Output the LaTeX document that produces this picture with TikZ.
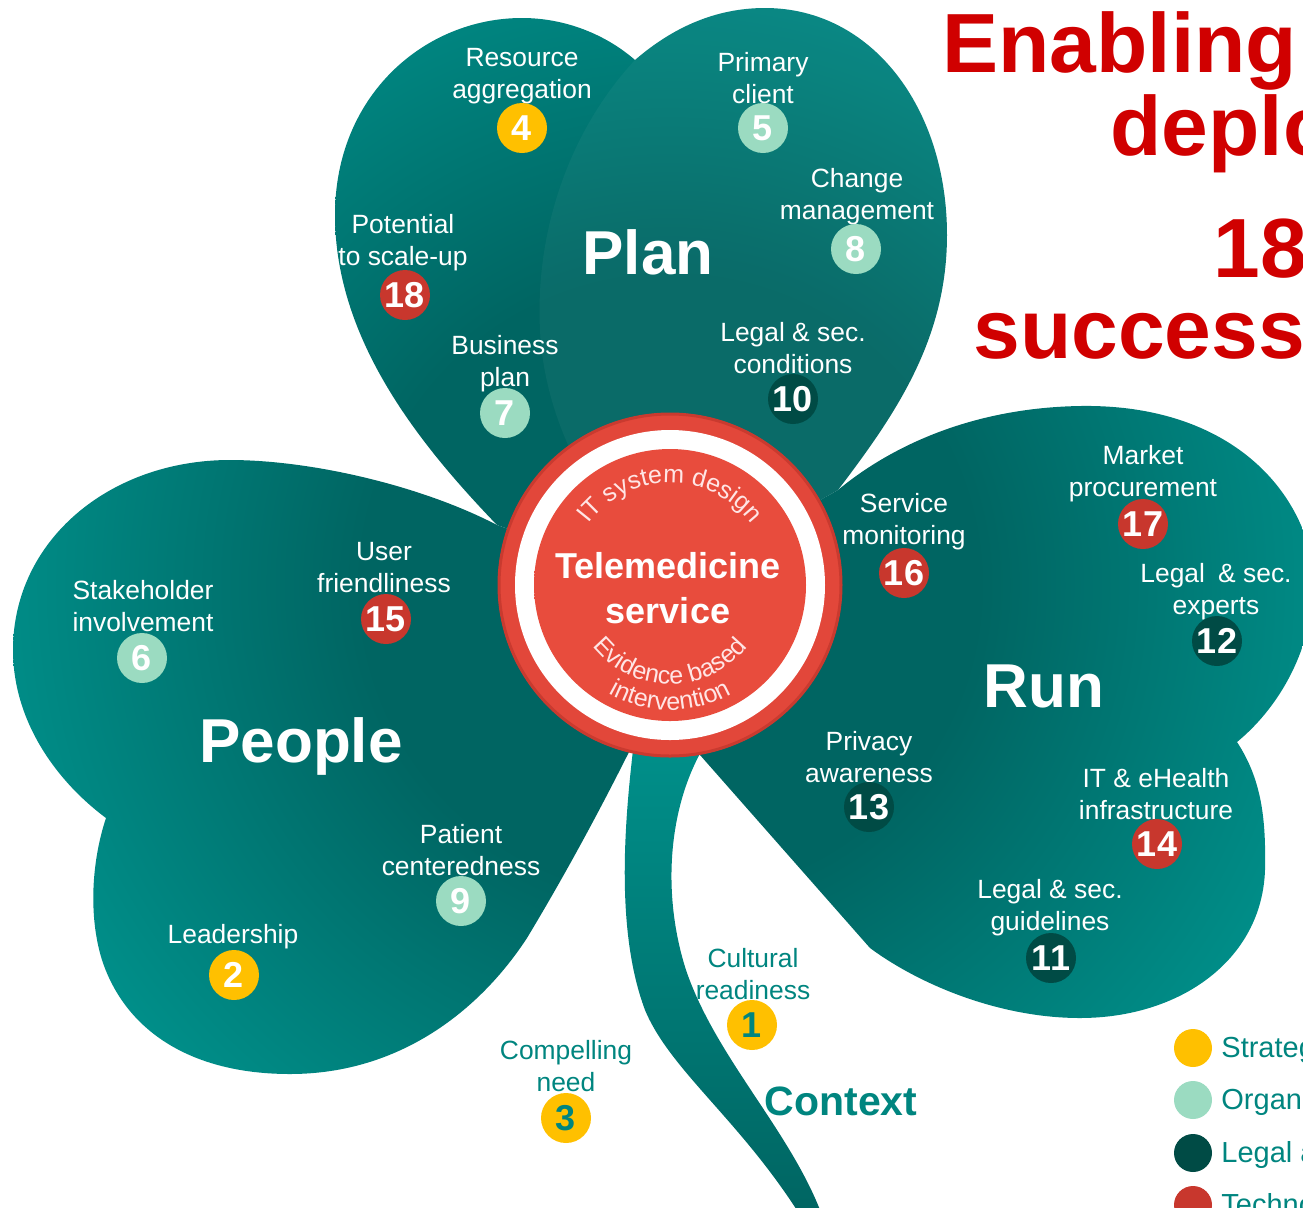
\documentclass[tikz,border=0pt]{standalone}
\usepackage{fontspec}
\setmainfont{Liberation Sans}
\usetikzlibrary{decorations.text}

\definecolor{leaflight}{HTML}{009993}
\definecolor{leafdark}{HTML}{006562}
\definecolor{strat}{HTML}{FFC000}
\definecolor{orga}{HTML}{9BDBC1}
\definecolor{legal}{HTML}{004B45}
\definecolor{techn}{HTML}{C8372D}
\definecolor{ringred}{HTML}{E2473A}
\definecolor{ringdark}{HTML}{C93A2F}
\definecolor{discred}{HTML}{E84C3D}
\definecolor{discrim}{HTML}{D23F31}
\definecolor{ctxteal}{HTML}{00857F}
\definecolor{titlered}{HTML}{D00000}

\pgfdeclareradialshading{leafshade}{\pgfpoint{0bp}{0bp}}{color(0bp)=(leafdark); color(11bp)=(leafdark); color(28bp)=(leaflight); color(50bp)=(leaflight)}
\pgfdeclareradialshading{discshade}{\pgfpoint{0bp}{0bp}}{color(0bp)=(discred); color(40bp)=(discred); color(50bp)=(discrim)}

\begin{document}
\begin{tikzpicture}[x=0.5pt, y=-0.5pt,
  badge/.style={circle, inner sep=0pt, minimum size=25pt, text=white, font=\bfseries\fontsize{18}{18}\selectfont},
  leaflabel/.style={align=center, text=white, inner sep=0pt, yshift=-1.5pt, font=\fontsize{13.2}{16}\selectfont},
  ctxlabel/.style={leaflabel, text=ctxteal},
  bigword/.style={text=white, inner sep=0pt, font=\bfseries\fontsize{31}{31}\selectfont},
  titleword/.style={text=titlered, anchor=base west, inner sep=0pt, font=\bfseries\fontsize{42}{42}\selectfont},
  legdot/.style={circle, inner sep=0pt, minimum size=19pt},
  legtext/.style={text=ctxteal, anchor=west, inner sep=0pt, font=\fontsize{14.5}{14.5}\selectfont}]

  \useasboundingbox (0,0) rectangle (1303,1207);
  \clip (0,0) rectangle (1303,1207);

  % Plan leaf
  \begin{scope}
    \clip (670,585) -- (497,525) .. controls (420,445) and (335,340) .. (335,215)
      .. controls (335,95) and (425,18) .. (522,18) .. controls (570,18) and (610,38) .. (635,60)
      .. controls (672,28) and (715,8) .. (765,8) .. controls (872,8) and (947,108) .. (947,235)
      .. controls (947,340) and (895,415) .. (838,490) -- cycle;
    \shade[shading=leafshade] (670,585) circle (700);
    \fill[white, opacity=0.04] (635,60) .. controls (570,130) and (535,230) .. (540,330)
      .. controls (545,430) and (600,520) .. (670,585) -- (1000,585) -- (1000,-10) -- (635,-10) -- cycle;
  \end{scope}

  % People leaf
  \begin{scope}
    \clip (670,585) -- (630,750) .. controls (600,810) and (565,875) .. (527,938)
      .. controls (480,1010) and (400,1074) .. (290,1074) .. controls (190,1074) and (125,1030) .. (102,960)
      .. controls (88,915) and (92,860) .. (106,818) .. controls (55,780) and (13,720) .. (13,650)
      .. controls (13,540) and (110,460) .. (230,460) .. controls (310,460) and (420,485) .. (497,525) -- cycle;
    \shade[shading=leafshade] (670,585) circle (700);
  \end{scope}

  % Run leaf
  \begin{scope}
    \clip (670,585) -- (838,490) .. controls (880,455) and (960,408) .. (1080,406)
      .. controls (1200,404) and (1275,460) .. (1303,530) .. controls (1330,600) and (1300,690) .. (1237,742)
      .. controls (1262,780) and (1266,820) .. (1265,870) .. controls (1262,960) and (1180,1018) .. (1080,1018)
      .. controls (1000,1018) and (920,985) .. (870,948) -- (700,755) -- cycle;
    \shade[shading=leafshade] (670,585) circle (700);
  \end{scope}

  % stem
  \shade[top color=leaflight!80!leafdark, bottom color=leafdark]
    (633,750) .. controls (625,820) and (615,930) .. (645,1010)
    .. controls (670,1070) and (740,1120) .. (800,1215) -- (822,1215)
    .. controls (790,1130) and (716,1058) .. (686,970)
    .. controls (662,895) and (668,810) .. (702,750) -- cycle;

  % centre
  \fill[ringred] (670,585) circle (172);
  \draw[ringdark, line width=1.5pt] (670,585) circle (171);
  \fill[white] (670,585) circle (155);
  \shade[shading=discshade] (670,585) circle (136);
  \node[align=center, text=white, inner sep=0pt, font=\bfseries\fontsize{18}{22.5}\selectfont] (core) at (668,588) {Telemedicine\\service};
  \begin{scope}[shift={(670,585)}, x=0.5pt, y=0.5pt]
    \path[decorate, decoration={text along path, text align=center, text color=white!90!red,
      text={|\fontsize{12.5}{12.5}\selectfont|IT system design}}] (160:102) arc (160:20:102);
    \path[decorate, decoration={text along path, text align=center, text color=white!90!red,
      text={|\fontsize{12.5}{12.5}\selectfont|Evidence based}}] (200:99) arc (200:340:99);
    \path[decorate, decoration={text along path, text align=center, text color=white!90!red,
      text={|\fontsize{12.5}{12.5}\selectfont|intervention}}] (215:125) arc (215:325:125);
  \end{scope}

  % big words
  \node[bigword] (plan) at (648,252) {Plan};
  \node[bigword] (people) at (301,746) {People};
  \node[bigword] (run) at (1044,686) {Run};
  \node[text=ctxteal, inner sep=0pt, font=\bfseries\fontsize{20.5}{20.5}\selectfont] (context) at (841,1101) {Context};

  % Plan factors
  \node[leaflabel] (l4) at (522,73) {Resource\\aggregation};
  \node[badge, fill=strat] (b4) at (522,128) {4};
  \node[leaflabel] (l5) at (763,75) {Primary\\client};
  \node[badge, fill=orga] (b5) at (763,128) {5};
  \node[leaflabel] (l8) at (857,194) {Change\\management};
  \node[badge, fill=orga] (b8) at (856,249) {8};
  \node[leaflabel] (l18) at (403,240) {Potential\\to scale-up};
  \node[badge, fill=techn] (b18) at (405,295) {18};
  \node[leaflabel] (l7) at (505,361) {Business\\plan};
  \node[badge, fill=orga] (b7) at (505,413) {7};
  \node[leaflabel] (l10) at (793,345) {Legal \& sec.\\conditions};
  \node[badge, fill=legal] (b10) at (793,399) {10};

  % People factors
  \node[leaflabel] (l15) at (384,565) {User\\friendliness};
  \node[badge, fill=techn] (b15) at (386,619) {15};
  \node[leaflabel] (l6) at (143,603) {Stakeholder\\involvement};
  \node[badge, fill=orga] (b6) at (142,658) {6};
  \node[leaflabel] (l9) at (461,847) {Patient\\centeredness};
  \node[badge, fill=orga] (b9) at (461,901) {9};
  \node[leaflabel] (l2) at (233,934) {Leadership};
  \node[badge, fill=strat] (b2) at (234,975) {2};

  % Run factors
  \node[leaflabel] (l16) at (904,519) {Service\\monitoring};
  \node[badge, fill=techn] (b16) at (904,573) {16};
  \node[leaflabel] (l17) at (1143,471) {Market\\procurement};
  \node[badge, fill=techn] (b17) at (1143,524) {17};
  \node[leaflabel] (l12) at (1216,589) {Legal\enspace\& sec.\\experts};
  \node[badge, fill=legal] (b12) at (1217,641) {12};
  \node[leaflabel] (l13) at (869,754) {Privacy\\awareness};
  \node[badge, fill=legal] (b13) at (869,807) {13};
  \node[leaflabel] (l14) at (1156,791) {IT \& eHealth\\infrastructure};
  \node[badge, fill=techn] (b14) at (1157,844) {14};
  \node[leaflabel] (l11) at (1050,905) {Legal \& sec.\\guidelines};
  \node[badge, fill=legal] (b11) at (1051,958) {11};

  % Context factors
  \node[ctxlabel] (l1) at (753,971) {Cultural\\readiness};
  \node[badge, fill=strat, text=ctxteal] (b1) at (752,1025) {1};
  \node[ctxlabel] (l3) at (566,1063) {Compelling\\need};
  \node[badge, fill=strat, text=ctxteal] (b3) at (566,1118) {3};

  % title
  \node[titleword] (t1) at (942,72) {Enabling};
  \node[titleword] (t2) at (1110,155) {deployment};
  \node[titleword] (t3) at (1213,277) {18};
  \node[titleword] (t4) at (973,358) {success};

  % legend
  \node[legdot, fill=strat] (k1) at (1193,1048) {};
  \node[legtext] (k1t) at (1221,1050) {Strategic};
  \node[legdot, fill=orga] (k2) at (1193,1100) {};
  \node[legtext] (k2t) at (1221,1102) {Organisational};
  \node[legdot, fill=legal] (k3) at (1193,1153) {};
  \node[legtext] (k3t) at (1221,1155) {Legal and security};
  \node[legdot, fill=techn] (k4) at (1193,1205) {};
  \node[legtext] (k4t) at (1221,1207) {Technological};
\end{tikzpicture}
\end{document}
